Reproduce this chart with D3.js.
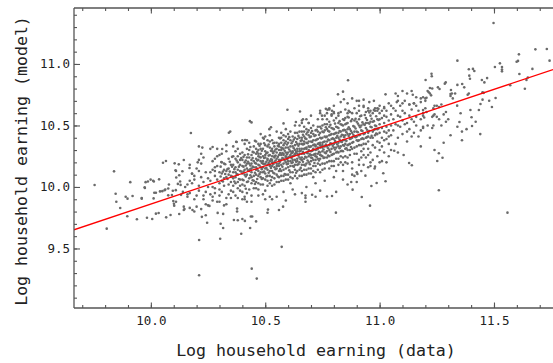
<!DOCTYPE html>
<html>
<head>
<meta charset="utf-8">
<script src="https://cdn.jsdelivr.net/npm/d3@7"></script>
<style>
  html, body { margin: 0; padding: 0; background: #fff; }
  svg { display: block; }
</style>
</head>
<body>
<svg id="chart" width="553" height="363"></svg>
<script>
// Household earnings: observed log earning (x) vs. model-predicted log earning (y)
const households = [
  // sparse left tail
  [9.754,10.016],[9.839,10.127],[9.807,9.661],[9.846,9.945],[9.849,9.880],[9.866,9.829],[9.890,9.921],[9.898,9.905],
  [9.897,9.762],[9.910,10.039],[9.920,9.927],[9.939,9.737],[9.960,9.905],[9.974,9.992],[9.977,10.039],[9.987,10.044],
  [9.983,9.750],[9.999,10.060],[10.006,9.740],[10.012,9.907],[10.015,9.953],[10.022,9.953],[10.013,10.044],[10.022,9.783],
  [10.034,9.788],[10.040,9.964],[10.050,9.966],[10.053,10.197],[10.066,10.211],[10.060,9.974],[10.063,9.980],[10.067,9.753],
  [10.076,9.988],[10.079,10.020],[10.086,9.772],[10.076,9.932],[10.092,9.935],[10.096,9.969],[10.098,9.885],[10.101,9.864],
  [10.102,9.848],[10.108,10.136],[10.111,10.077],[10.122,10.184],[10.109,9.974],[10.118,10.025],[10.124,9.780],[10.128,10.044],
  [10.130,10.017],[10.132,9.936],[10.138,10.128],[10.144,9.813],
  [10.01,10.05],[10.036,10.062],[9.973,9.997],[9.96,9.91],[10.104,10.192],[10.144,10.219],[10.11,10.13],[10.124,10.095],
  [10.169,10.154],[10.18,10.108],[10.21,10.22],[10.205,10.2],[10.27,10.325],[10.29,10.31],[10.31,10.27],[10.375,10.366],
  [10.308,10.203],[10.28,10.13],[10.17,10.05],[10.15,10.0],[10.14,9.96],[10.16,9.94],[10.11,9.88],[10.144,9.84],
  [10.19,9.80],[10.22,9.82],[10.24,9.77],[10.25,9.85],[10.38,9.73],[10.40,9.74],[10.51,9.79],[10.53,9.90],
  // below the main cloud
  [10.211,9.569],[10.211,9.282],[10.223,9.757],[10.246,9.709],[10.303,9.579],[10.305,9.701],[10.316,9.666],[10.292,9.789],
  [10.316,9.781],[10.363,9.732],[10.377,9.824],[10.377,9.800],[10.395,9.620],[10.411,9.724],[10.434,9.667],[10.437,9.760],
  [10.443,9.760],[10.460,9.720],[10.441,9.336],[10.463,9.255],[10.512,9.816],[10.560,9.813],[10.572,9.513],[10.578,9.840],
  [10.809,9.791],[10.792,9.926],[10.770,9.923],[10.705,9.937],[10.676,9.93],[10.676,9.91],[10.676,9.88],[10.147,9.82],
  [10.182,9.813],[10.17,9.83],[10.256,9.846],
  [10.20,9.93],[10.23,9.90],[10.27,9.92],[10.30,9.88],[10.33,9.86],[10.35,9.91],[10.41,9.90],[10.44,9.88],[10.47,9.93],
  [10.50,9.90],[10.55,9.92],[10.59,9.89],[10.63,9.94],[10.72,9.92],[10.81,9.96],
  [11.259,9.973],[11.559,9.791],[10.958,9.848],[10.922,9.918],[10.882,9.978],[10.964,10.008],[10.987,10.032],[11.026,10.046],
  [11.016,10.111],[10.903,10.105],[10.938,10.092],[10.980,10.165],[10.978,10.15],[11.252,10.211],[11.275,10.238],[11.259,10.274],
  [11.129,10.195],[11.141,10.176],[11.105,10.260],[11.064,10.295],[10.876,10.04],
  [10.88,10.15],[10.90,10.12],[10.93,10.18],[10.95,10.16],[10.97,10.22],[10.99,10.25],[11.02,10.28],[11.01,10.21],
  [10.96,10.20],[10.91,10.22],[10.86,10.19],[10.89,10.09],[11.05,10.30],[11.03,10.20],
  [10.62,9.98],[10.68,10.00],[10.72,10.03],[10.76,10.05],[10.80,10.08],[10.84,10.06],[10.88,10.10],[10.92,10.13],
  [10.96,10.17],[11.00,10.20],[10.66,9.95],[10.74,9.97],[10.86,10.02],[10.58,9.96],[10.52,9.92],[10.90,10.04],
  [11.04,10.25],[11.08,10.28],
  // above the main cloud
  [10.175,10.439],[10.341,10.441],[10.347,10.45],[10.433,10.535],[10.44,10.525],[10.373,10.368],[10.21,10.33],[10.225,10.32],
  [10.312,10.309],[10.412,10.382],[10.42,10.38],[10.518,10.47],[10.525,10.485],[10.494,10.393],[10.580,10.517],[10.597,10.628],
  [10.634,10.528],[10.652,10.614],[10.665,10.550],[10.862,10.867],[10.818,10.753],[10.840,10.775],[10.844,10.713],[10.765,10.635],
  [10.772,10.628],[10.74,10.60],[10.748,10.58],[10.792,10.62],[10.82,10.60],[10.86,10.60],[10.865,10.62],
  [10.90,10.70],[10.93,10.71],[10.955,10.69],[10.975,10.70],[11.026,10.753],[11.07,10.76],[11.08,10.74],[11.10,10.78],
  [11.12,10.76],[11.14,10.78],[11.145,10.75],[11.16,10.73],[11.08,10.70],[11.075,10.69],[11.10,10.68],[11.13,10.67],
  [11.15,10.68],[11.00,10.66],[11.02,10.64],[10.98,10.64],[10.99,10.62],[10.96,10.62],[10.91,10.66],[10.93,10.65],
  [10.95,10.64],[10.78,10.63],[10.80,10.61],[10.77,10.60],[10.79,10.59],[10.66,10.54],[10.69,10.52],[10.66,10.52],
  [10.80,10.66],[10.83,10.69],[10.86,10.68],[10.88,10.72],[10.91,10.70],[10.85,10.63],[10.78,10.64],[10.74,10.62],
  [10.70,10.58],[10.68,10.55],
  // upper right tail
  [11.498,11.333],[11.681,11.119],[11.731,11.122],[11.743,11.027],[11.609,11.078],[11.599,11.018],[11.605,11.025],[11.526,11.005],
  [11.340,11.027],[11.535,10.975],[11.535,10.955],[11.535,10.94],[11.504,10.975],[11.668,10.96],[11.611,10.918],[11.642,10.87],
  [11.648,10.89],[11.571,10.827],[11.635,10.799],[11.414,10.943],[11.408,10.96],[11.390,10.957],[11.227,10.921],[11.228,10.90],
  [11.201,10.870],[11.447,10.870],[11.47,10.885],[11.458,10.85],[11.395,10.88],[11.392,10.905],[11.37,10.81],[11.507,10.723],
  [11.491,10.650],[11.479,10.701],[11.441,10.675],[11.45,10.71],[11.434,10.626],[11.397,10.626],[11.354,10.599],[11.402,10.567],
  [11.404,10.496],[11.349,10.528],[11.339,10.661],[11.361,10.837],[11.34,10.83],[11.312,10.788],[11.316,10.76],[11.289,10.85],
  [11.285,10.84],[11.33,10.76],[11.39,10.76],[11.385,10.75],[11.45,10.77],[11.455,10.765],[11.262,10.797],[11.255,10.81],
  [11.23,10.80],[11.22,10.805],[11.21,10.78],[11.215,10.77],[11.32,10.72],[11.31,10.74],[11.31,10.755],[11.27,10.67],
  [11.25,10.66],[11.26,10.65],[11.24,10.66],[11.235,10.64],[11.2,10.64],[11.19,10.625],[11.205,10.61],[11.23,10.57],
  [11.235,10.58],[11.24,10.59],[11.25,10.57],[11.26,10.55],[11.28,10.59],[11.29,10.61],[11.23,10.48],[11.235,10.50],
  [11.19,10.58],[11.195,10.565],[11.19,10.73],[11.20,10.72],[11.205,10.725],[11.18,10.69],[11.22,10.76],[11.225,10.745],
  [11.20,10.70],[11.19,10.49],[11.21,10.50],[11.27,10.50],[11.29,10.53],[11.30,10.55],[11.34,10.49],[11.38,10.47],
  [11.42,10.53],[11.36,10.45],[11.22,10.40],[11.28,10.36],[11.31,10.42],[11.36,10.38],[11.44,10.43],[11.18,10.33],[11.24,10.30],
  // main cloud, 10.15 - 10.25
  [10.16,10.02],[10.17,9.95],[10.18,10.11],[10.19,10.06],[10.19,9.90],[10.20,10.15],[10.21,10.01],[10.21,9.97],
  [10.22,10.08],[10.22,10.19],[10.23,9.93],[10.23,10.04],[10.24,10.12],[10.24,9.86],[10.25,10.00],[10.25,10.07],
  [10.17,10.18],[10.20,9.84],[10.23,10.24],[10.18,10.03],[10.24,9.96],[10.16,9.92],[10.22,10.27],[10.21,10.13],[10.19,10.09],
  // 10.25 - 10.35
  [10.26,10.05],[10.26,9.94],[10.27,10.14],[10.27,10.21],[10.28,9.99],[10.28,10.09],[10.29,9.88],[10.29,10.17],
  [10.30,10.03],[10.30,10.26],[10.31,10.11],[10.31,9.96],[10.32,10.07],[10.32,10.19],[10.33,9.91],[10.33,10.13],
  [10.34,10.02],[10.34,10.23],[10.35,10.09],[10.35,9.97],[10.26,10.31],[10.27,9.89],[10.28,10.16],[10.29,10.06],
  [10.30,9.93],[10.31,10.20],[10.32,9.85],[10.33,10.29],[10.34,10.15],[10.35,10.04],[10.26,10.12],[10.28,10.23],
  [10.30,10.12],[10.32,10.01],[10.34,9.94],[10.27,10.00],[10.29,10.25],[10.31,10.05],[10.33,10.08],[10.35,10.18],
  [10.30,9.98],[10.32,10.14],[10.34,10.10],[10.28,9.95],[10.33,10.34],
  [10.305,10.085],[10.305,10.165],[10.315,10.045],[10.315,10.125],[10.325,10.105],[10.325,10.185],[10.335,10.065],
  [10.335,10.145],[10.345,10.125],[10.345,10.205],[10.355,10.085],[10.355,10.165],[10.355,10.245],[10.365,10.145],
  [10.365,10.045],[10.375,10.105],[10.375,10.215],[10.385,10.165],[10.385,10.065],[10.395,10.125],[10.395,10.235],
  // 10.35 - 10.45
  [10.36,10.12],[10.36,10.01],[10.36,10.25],[10.37,9.93],[10.37,10.16],[10.37,10.08],[10.38,10.20],[10.38,10.04],
  [10.38,10.31],[10.39,9.97],[10.39,10.13],[10.39,10.22],[10.40,10.06],[10.40,10.17],[10.40,9.90],[10.40,10.28],
  [10.41,10.10],[10.41,10.01],[10.41,10.35],[10.42,10.15],[10.42,10.24],[10.42,9.95],[10.43,10.07],[10.43,10.19],
  [10.43,10.30],[10.44,10.03],[10.44,10.12],[10.44,10.26],[10.45,9.99],[10.45,10.16],[10.45,10.21],[10.36,10.18],
  [10.37,10.29],[10.38,9.99],[10.39,10.06],[10.40,10.11],[10.41,10.20],[10.42,10.04],[10.43,10.13],[10.44,10.19],
  [10.45,10.09],[10.36,9.96],[10.37,10.03],[10.38,10.14],[10.39,10.27],[10.40,10.22],[10.41,9.92],[10.42,10.10],
  [10.43,10.36],[10.44,9.93],[10.45,10.28],[10.36,10.07],[10.38,10.10],[10.40,10.02],[10.42,10.31],[10.44,10.08],
  [10.37,10.23],[10.39,10.01],[10.41,10.14],[10.43,9.98],[10.45,10.05],[10.36,10.33],[10.38,9.91],[10.40,10.38],
  [10.42,10.19],[10.44,10.15],[10.39,10.18],[10.41,10.26],[10.43,10.24],[10.37,10.12],[10.45,10.33],[10.40,9.96],
  [10.42,9.88],[10.44,10.22],[10.38,10.25],
  [10.405,10.165],[10.405,10.055],[10.405,10.245],[10.405,10.125],[10.415,10.085],[10.415,10.215],[10.415,10.175],[10.415,9.985],
  [10.425,10.135],[10.425,10.265],[10.425,10.045],[10.425,10.205],[10.435,10.175],[10.435,10.095],[10.435,10.325],[10.435,10.145],
  [10.445,10.235],[10.445,10.055],[10.445,10.165],[10.445,10.285],
  // 10.45 - 10.55
  [10.46,10.14],[10.46,10.23],[10.46,10.04],[10.46,10.31],[10.47,10.18],[10.47,10.09],[10.47,10.27],[10.47,9.98],
  [10.48,10.21],[10.48,10.12],[10.48,10.35],[10.48,10.02],[10.49,10.16],[10.49,10.25],[10.49,10.07],[10.49,10.40],
  [10.50,10.19],[10.50,10.11],[10.50,10.29],[10.50,9.97],[10.51,10.23],[10.51,10.14],[10.51,10.33],[10.51,10.05],
  [10.52,10.17],[10.52,10.26],[10.52,10.09],[10.52,10.42],[10.53,10.20],[10.53,10.13],[10.53,10.31],[10.53,10.01],
  [10.54,10.24],[10.54,10.16],[10.54,10.36],[10.54,10.07],[10.55,10.19],[10.55,10.28],[10.55,10.10],[10.55,10.45],
  [10.46,10.19],[10.47,10.35],[10.48,10.27],[10.49,10.12],[10.50,10.24],[10.51,10.18],[10.52,10.21],[10.53,10.25],
  [10.54,10.29],[10.55,10.15],[10.46,10.10],[10.47,10.22],[10.48,10.16],[10.49,10.31],[10.50,10.06],[10.51,10.28],
  [10.52,10.13],[10.53,10.38],[10.54,10.11],[10.55,10.23],[10.46,10.27],[10.47,10.13],[10.48,10.08],[10.49,10.21],
  [10.50,10.34],[10.51,10.09],[10.52,10.32],[10.53,10.17],[10.54,10.20],[10.55,10.04],[10.46,9.99],[10.47,10.03],
  [10.48,10.43],[10.49,10.02],[10.50,10.15],[10.51,10.38],[10.52,10.03],[10.53,10.08],[10.54,10.33],[10.55,10.36],
  [10.47,10.30],[10.49,10.19],[10.51,10.22],[10.53,10.29],[10.55,10.31],[10.46,10.37],[10.48,10.24],[10.50,10.41],
  [10.52,10.18],[10.54,10.02],[10.47,10.25],[10.49,9.94],[10.51,10.01],[10.53,10.22],[10.55,10.17],[10.48,10.31],
  [10.50,10.26],[10.52,10.37],[10.54,10.25],[10.46,10.16],
  [10.455,10.115],[10.455,10.195],[10.455,10.375],[10.455,10.025],[10.465,10.215],[10.465,10.145],[10.465,10.285],[10.465,10.065],
  [10.475,10.175],[10.475,10.245],[10.475,10.105],[10.475,10.335],[10.485,10.195],[10.485,10.065],[10.485,10.295],[10.485,10.145],
  [10.495,10.235],[10.495,10.125],[10.495,10.355],[10.495,10.185],[10.505,10.205],[10.505,10.275],[10.505,10.085],[10.505,10.155],
  [10.515,10.255],[10.515,10.115],[10.515,10.195],[10.515,10.345],[10.525,10.225],[10.525,10.155],[10.525,10.295],[10.525,10.055],
  [10.535,10.275],[10.535,10.185],[10.535,10.115],[10.535,10.355],[10.545,10.215],[10.545,10.305],[10.545,10.145],[10.545,10.255],
  // 10.55 - 10.65
  [10.56,10.26],[10.56,10.17],[10.56,10.35],[10.56,10.08],[10.57,10.22],[10.57,10.30],[10.57,10.13],[10.57,10.44],
  [10.58,10.27],[10.58,10.19],[10.58,10.38],[10.58,10.05],[10.59,10.24],[10.59,10.32],[10.59,10.15],[10.59,10.47],
  [10.60,10.28],[10.60,10.21],[10.60,10.36],[10.60,10.10],[10.61,10.25],[10.61,10.33],[10.61,10.17],[10.61,10.03],
  [10.62,10.29],[10.62,10.22],[10.62,10.41],[10.62,10.12],[10.63,10.26],[10.63,10.34],[10.63,10.18],[10.63,10.50],
  [10.64,10.31],[10.64,10.23],[10.64,10.39],[10.64,10.07],[10.65,10.27],[10.65,10.35],[10.65,10.20],[10.65,10.45],
  [10.56,10.22],[10.57,10.36],[10.58,10.31],[10.59,10.20],[10.60,10.32],[10.61,10.29],[10.62,10.25],[10.63,10.30],
  [10.64,10.27],[10.65,10.31],[10.56,10.30],[10.57,10.18],[10.58,10.23],[10.59,10.28],[10.60,10.24],[10.61,10.38],
  [10.62,10.17],[10.63,10.22],[10.64,10.35],[10.65,10.14],[10.56,10.13],[10.57,10.26],[10.58,10.14],[10.59,10.37],
  [10.60,10.16],[10.61,10.21],[10.62,10.33],[10.63,10.14],[10.64,10.18],[10.65,10.24],[10.56,10.40],[10.57,10.09],
  [10.58,10.42],[10.59,10.10],[10.60,10.43],[10.61,10.12],[10.62,10.37],[10.63,10.40],[10.64,10.13],[10.65,10.40],
  [10.56,10.04],[10.58,10.34],[10.60,10.06],[10.62,10.07],[10.64,10.44],[10.57,10.40],[10.59,10.06],[10.61,10.45],
  [10.63,10.09],[10.65,10.09],[10.56,10.19],[10.57,10.32],[10.58,10.26],[10.59,10.25],[10.60,10.19],[10.61,10.26],
  [10.62,10.28],[10.63,10.27],[10.64,10.21],[10.65,10.29],[10.56,10.33],[10.58,10.09],[10.60,10.39],[10.62,10.20],
  [10.64,10.29],[10.57,10.05],[10.59,10.41],[10.61,10.08],[10.63,10.44],[10.65,10.50],
  [10.555,10.245],[10.555,10.175],[10.555,10.335],[10.555,10.085],[10.565,10.275],[10.565,10.205],[10.565,10.395],[10.565,10.145],
  [10.575,10.235],[10.575,10.315],[10.575,10.165],[10.575,10.275],[10.585,10.295],[10.585,10.215],[10.585,10.105],[10.585,10.355],
  [10.595,10.265],[10.595,10.185],[10.595,10.345],[10.595,10.225],[10.605,10.305],[10.605,10.245],[10.605,10.135],[10.605,10.405],
  [10.615,10.275],[10.615,10.195],[10.615,10.355],[10.615,10.235],[10.625,10.315],[10.625,10.255],[10.625,10.165],[10.625,10.385],
  [10.635,10.285],[10.635,10.205],[10.635,10.365],[10.635,10.115],[10.645,10.335],[10.645,10.255],[10.645,10.185],[10.645,10.415],
  // 10.65 - 10.75
  [10.66,10.31],[10.66,10.22],[10.66,10.40],[10.66,10.13],[10.67,10.27],[10.67,10.35],[10.67,10.18],[10.67,10.49],
  [10.68,10.32],[10.68,10.24],[10.68,10.43],[10.68,10.10],[10.69,10.29],[10.69,10.37],[10.69,10.20],[10.69,10.52],
  [10.70,10.33],[10.70,10.26],[10.70,10.41],[10.70,10.15],[10.71,10.30],[10.71,10.38],[10.71,10.22],[10.71,10.08],
  [10.72,10.34],[10.72,10.27],[10.72,10.46],[10.72,10.17],[10.73,10.31],[10.73,10.39],[10.73,10.23],[10.73,10.55],
  [10.74,10.36],[10.74,10.28],[10.74,10.44],[10.74,10.12],[10.75,10.32],[10.75,10.40],[10.75,10.25],[10.75,10.50],
  [10.66,10.27],[10.67,10.41],[10.68,10.36],[10.69,10.25],[10.70,10.37],[10.71,10.34],[10.72,10.30],[10.73,10.35],
  [10.74,10.32],[10.75,10.36],[10.66,10.35],[10.67,10.23],[10.68,10.28],[10.69,10.33],[10.70,10.29],[10.71,10.43],
  [10.72,10.22],[10.73,10.27],[10.74,10.40],[10.75,10.19],[10.66,10.18],[10.67,10.31],[10.68,10.19],[10.69,10.42],
  [10.70,10.21],[10.71,10.26],[10.72,10.38],[10.73,10.19],[10.74,10.23],[10.75,10.29],[10.66,10.45],[10.67,10.14],
  [10.68,10.47],[10.69,10.15],[10.70,10.48],[10.71,10.17],[10.72,10.42],[10.73,10.45],[10.74,10.18],[10.75,10.45],
  [10.66,10.09],[10.68,10.39],[10.70,10.11],[10.72,10.12],[10.74,10.49],[10.67,10.45],[10.69,10.11],[10.71,10.50],
  [10.73,10.14],[10.75,10.14],[10.66,10.24],[10.67,10.37],[10.68,10.31],[10.69,10.30],[10.70,10.24],[10.71,10.31],
  [10.72,10.33],[10.73,10.32],[10.74,10.26],[10.75,10.34],[10.66,10.38],[10.68,10.14],[10.70,10.44],[10.72,10.25],
  [10.74,10.34],[10.67,10.10],[10.69,10.46],[10.71,10.13],[10.73,10.49],[10.75,10.55],
  [10.655,10.295],[10.655,10.225],[10.655,10.375],[10.655,10.155],[10.665,10.345],[10.665,10.285],[10.665,10.205],[10.665,10.425],
  [10.675,10.315],[10.675,10.245],[10.675,10.395],[10.675,10.175],[10.685,10.355],[10.685,10.275],[10.685,10.215],[10.685,10.445],
  [10.695,10.325],[10.695,10.265],[10.695,10.405],[10.695,10.185],[10.705,10.365],[10.705,10.295],[10.705,10.235],[10.705,10.455],
  [10.715,10.345],[10.715,10.265],[10.715,10.415],[10.715,10.195],[10.725,10.385],[10.725,10.305],[10.725,10.245],[10.725,10.465],
  [10.735,10.355],[10.735,10.285],[10.735,10.425],[10.735,10.215],[10.745,10.395],[10.745,10.325],[10.745,10.255],[10.745,10.475],
  // 10.75 - 10.85
  [10.76,10.37],[10.76,10.28],[10.76,10.46],[10.76,10.19],[10.77,10.33],[10.77,10.41],[10.77,10.24],[10.77,10.55],
  [10.78,10.38],[10.78,10.30],[10.78,10.49],[10.78,10.15],[10.79,10.35],[10.79,10.43],[10.79,10.26],[10.79,10.58],
  [10.80,10.39],[10.80,10.32],[10.80,10.47],[10.80,10.21],[10.81,10.36],[10.81,10.44],[10.81,10.28],[10.81,10.13],
  [10.82,10.40],[10.82,10.33],[10.82,10.52],[10.82,10.23],[10.83,10.37],[10.83,10.45],[10.83,10.29],[10.83,10.61],
  [10.84,10.42],[10.84,10.34],[10.84,10.50],[10.84,10.18],[10.85,10.38],[10.85,10.46],[10.85,10.31],[10.85,10.56],
  [10.76,10.33],[10.77,10.47],[10.78,10.42],[10.79,10.31],[10.80,10.43],[10.81,10.40],[10.82,10.36],[10.83,10.41],
  [10.84,10.38],[10.85,10.42],[10.76,10.41],[10.77,10.29],[10.78,10.34],[10.79,10.39],[10.80,10.35],[10.81,10.49],
  [10.82,10.28],[10.83,10.33],[10.84,10.46],[10.85,10.25],[10.76,10.24],[10.77,10.37],[10.78,10.25],[10.79,10.48],
  [10.80,10.27],[10.81,10.32],[10.82,10.44],[10.83,10.25],[10.84,10.29],[10.85,10.35],[10.76,10.51],[10.77,10.20],
  [10.78,10.53],[10.79,10.21],[10.80,10.54],[10.81,10.23],[10.82,10.48],[10.83,10.51],[10.84,10.24],[10.85,10.51],
  [10.76,10.15],[10.78,10.45],[10.80,10.17],[10.82,10.18],[10.84,10.55],[10.77,10.51],[10.79,10.17],[10.81,10.56],
  [10.83,10.20],[10.85,10.20],[10.78,10.21],[10.80,10.60],[10.82,10.58],[10.84,10.13],[10.76,10.58],
  [10.755,10.365],[10.755,10.305],[10.755,10.445],[10.755,10.235],[10.765,10.405],[10.765,10.345],[10.765,10.275],[10.765,10.485],
  [10.775,10.385],[10.775,10.315],[10.775,10.455],[10.775,10.255],[10.785,10.425],[10.785,10.355],[10.785,10.285],[10.785,10.505],
  [10.795,10.395],[10.795,10.335],[10.795,10.475],[10.795,10.265],[10.805,10.435],[10.805,10.375],[10.805,10.305],[10.805,10.515],
  [10.815,10.415],[10.815,10.345],[10.815,10.485],[10.815,10.285],[10.825,10.455],[10.825,10.385],[10.825,10.315],[10.825,10.535],
  [10.835,10.425],[10.835,10.365],[10.835,10.505],[10.835,10.295],[10.845,10.465],[10.845,10.405],[10.845,10.335],[10.845,10.545],
  // 10.85 - 10.95
  [10.86,10.43],[10.86,10.34],[10.86,10.52],[10.86,10.24],[10.87,10.39],[10.87,10.47],[10.87,10.30],[10.87,10.61],
  [10.88,10.44],[10.88,10.36],[10.88,10.55],[10.88,10.20],[10.89,10.41],[10.89,10.49],[10.89,10.32],[10.89,10.64],
  [10.90,10.45],[10.90,10.38],[10.90,10.53],[10.90,10.27],[10.91,10.42],[10.91,10.50],[10.91,10.34],[10.91,10.18],
  [10.92,10.46],[10.92,10.39],[10.92,10.58],[10.92,10.29],[10.93,10.43],[10.93,10.51],[10.93,10.35],[10.93,10.66],
  [10.94,10.48],[10.94,10.40],[10.94,10.56],[10.94,10.24],[10.95,10.44],[10.95,10.52],[10.95,10.37],[10.95,10.62],
  [10.86,10.47],[10.87,10.35],[10.88,10.40],[10.89,10.45],[10.90,10.41],[10.91,10.55],[10.92,10.34],[10.93,10.39],
  [10.94,10.52],[10.95,10.31],[10.86,10.30],[10.87,10.43],[10.88,10.31],[10.89,10.54],[10.90,10.33],[10.91,10.38],
  [10.92,10.50],[10.93,10.31],[10.94,10.35],[10.95,10.41],[10.86,10.57],[10.88,10.60],[10.90,10.60],[10.92,10.24],
  [10.94,10.61],[10.87,10.26],[10.89,10.27],[10.91,10.62],[10.93,10.26],[10.95,10.26],
  [10.855,10.445],[10.855,10.375],[10.855,10.515],[10.855,10.315],[10.865,10.485],[10.865,10.415],[10.865,10.345],[10.865,10.565],
  [10.875,10.455],[10.875,10.395],[10.875,10.535],[10.875,10.325],[10.885,10.495],[10.885,10.425],[10.885,10.365],
  [10.895,10.475],[10.895,10.405],[10.895,10.555],[10.905,10.515],[10.905,10.445],[10.905,10.375],
  [10.915,10.485],[10.915,10.425],[10.915,10.575],[10.925,10.525],[10.925,10.455],[10.925,10.395],
  [10.935,10.505],[10.935,10.435],[10.935,10.585],[10.945,10.545],[10.945,10.465],[10.945,10.405],
  // 10.95 - 11.05
  [10.96,10.49],[10.96,10.40],[10.96,10.58],[10.97,10.45],[10.97,10.53],[10.97,10.34],[10.98,10.50],[10.98,10.42],
  [10.98,10.62],[10.99,10.47],[10.99,10.55],[10.99,10.37],[11.00,10.51],[11.00,10.44],[11.00,10.60],[11.00,10.30],
  [11.01,10.48],[11.01,10.56],[11.01,10.40],[11.02,10.52],[11.02,10.45],[11.02,10.65],[11.03,10.49],[11.03,10.57],
  [11.03,10.39],[11.04,10.54],[11.04,10.46],[11.04,10.68],[11.05,10.50],[11.05,10.59],[11.05,10.42],[10.96,10.28],
  [10.97,10.60],[10.98,10.32],[10.99,10.64],[11.00,10.36],[11.01,10.33],[11.02,10.38],[11.03,10.62],[11.04,10.35],
  [11.05,10.66],[10.96,10.53],[10.98,10.47],[11.00,10.55],[11.02,10.58],[11.04,10.41],[10.97,10.40],[10.99,10.43],
  [11.01,10.62],[11.03,10.44],
  [10.955,10.515],[10.955,10.455],[10.955,10.605],[10.965,10.555],[10.965,10.485],[10.965,10.415],
  [10.975,10.535],[10.975,10.465],[10.975,10.625],[10.985,10.575],[10.985,10.495],[10.985,10.435],
  [10.995,10.545],[10.995,10.475],[10.995,10.635],
  // 11.05 - 11.20
  [11.06,10.55],[11.06,10.46],[11.07,10.62],[11.07,10.51],[11.08,10.40],[11.08,10.58],[11.09,10.66],[11.09,10.49],
  [11.10,10.54],[11.10,10.43],[11.11,10.60],[11.11,10.70],[11.12,10.52],[11.12,10.37],[11.13,10.58],[11.13,10.47],
  [11.14,10.63],[11.14,10.55],[11.15,10.44],[11.15,10.68],[11.16,10.57],[11.16,10.50],[11.17,10.62],[11.17,10.41],
  [11.18,10.55],[11.18,10.72],[11.19,10.60],[11.19,10.48],[11.06,10.64],[11.08,10.50],[11.10,10.62],[11.12,10.45],
  [11.14,10.41],[11.16,10.66],[11.18,10.46],[11.07,10.35],[11.09,10.57],[11.11,10.51],[11.13,10.67],[11.15,10.53]
];

// Least-squares fit drawn across the whole x range
const fitSlope = 0.622;
const fitIntercept = 3.641;

// Axis ticks
const xTicks = [10.0, 10.5, 11.0, 11.5];
const yTicks = [9.5, 10.0, 10.5, 11.0];

const xTitle = "Log household earning (data)";
const yTitle = "Log household earning (model)";

const W = 553, H = 363;
const plot = { left: 74, right: 553, top: 8, bottom: 308 };

const svg = d3.select("#chart");
svg.append("rect").attr("width", W).attr("height", H).attr("fill", "#fff");

const x = d3.scaleLinear().domain([9.664, 11.758]).range([plot.left, plot.right]);
const y = d3.scaleLinear().domain([9.016, 11.455]).range([plot.bottom, plot.top]);

svg.append("clipPath").attr("id", "plotClip")
  .append("rect")
  .attr("x", plot.left).attr("y", plot.top)
  .attr("width", plot.right - plot.left).attr("height", plot.bottom - plot.top);

const inner = svg.append("g").attr("clip-path", "url(#plotClip)");

// scatter
inner.append("g")
  .selectAll("circle")
  .data(households)
  .join("circle")
  .attr("cx", d => x(d[0]))
  .attr("cy", d => y(d[1]))
  .attr("r", 1.3)
  .attr("fill", "#6a6a6a");

// regression line
const line = d3.line().x(d => x(d)).y(d => y(fitIntercept + fitSlope * d));
inner.append("path")
  .datum(x.domain())
  .attr("d", line)
  .attr("fill", "none")
  .attr("stroke", "#ff0000")
  .attr("stroke-width", 1.3);

// axes with inward ticks
const axisColor = "#555";
const tickFont = "DejaVu Sans Mono, monospace";
const fmt = d3.format(".1f");

function styleAxis(g) {
  g.select(".domain").remove();
  g.selectAll(".tick line").attr("stroke", axisColor).attr("stroke-width", 1.1);
  g.selectAll(".tick text").attr("fill", "#222").attr("font-family", tickFont).attr("font-size", 12.5);
}

const xMinor = x.ticks(20);
const yMinor = y.ticks(25);

svg.append("g").attr("transform", `translate(0,${plot.bottom})`)
  .call(d3.axisBottom(x).tickValues(xMinor).tickFormat("").tickSize(-3)).call(styleAxis);
svg.append("g").attr("transform", `translate(0,${plot.bottom})`)
  .call(d3.axisBottom(x).tickValues(xTicks).tickFormat(fmt).tickSize(-5.5).tickPadding(8)).call(styleAxis);

svg.append("g").attr("transform", `translate(0,${plot.top})`)
  .call(d3.axisTop(x).tickValues(xMinor).tickFormat("").tickSize(-3)).call(styleAxis);
svg.append("g").attr("transform", `translate(0,${plot.top})`)
  .call(d3.axisTop(x).tickValues(xTicks).tickFormat("").tickSize(-5.5)).call(styleAxis);

svg.append("g").attr("transform", `translate(${plot.left},0)`)
  .call(d3.axisLeft(y).tickValues(yMinor).tickFormat("").tickSize(-3)).call(styleAxis);
svg.append("g").attr("transform", `translate(${plot.left},0)`)
  .call(d3.axisLeft(y).tickValues(yTicks).tickFormat(fmt).tickSize(-6).tickPadding(4)).call(styleAxis);

// frame (left, bottom, top)
const frame = svg.append("g").attr("stroke", axisColor).attr("stroke-width", 1.3).attr("fill", "none");
frame.append("line").attr("x1", plot.left).attr("x2", plot.left).attr("y1", plot.top).attr("y2", plot.bottom);
frame.append("line").attr("x1", plot.left).attr("x2", plot.right).attr("y1", plot.bottom).attr("y2", plot.bottom);
frame.append("line").attr("x1", plot.left).attr("x2", plot.right).attr("y1", plot.top).attr("y2", plot.top);

// axis titles
svg.append("text")
  .attr("x", 316).attr("y", 356)
  .attr("text-anchor", "middle")
  .attr("font-family", tickFont).attr("font-size", 16.6).attr("fill", "#222")
  .text(xTitle);

svg.append("text")
  .attr("transform", "translate(27,161) rotate(-90)")
  .attr("text-anchor", "middle")
  .attr("font-family", tickFont).attr("font-size", 16.6).attr("fill", "#222")
  .text(yTitle);
</script>
</body>
</html>
